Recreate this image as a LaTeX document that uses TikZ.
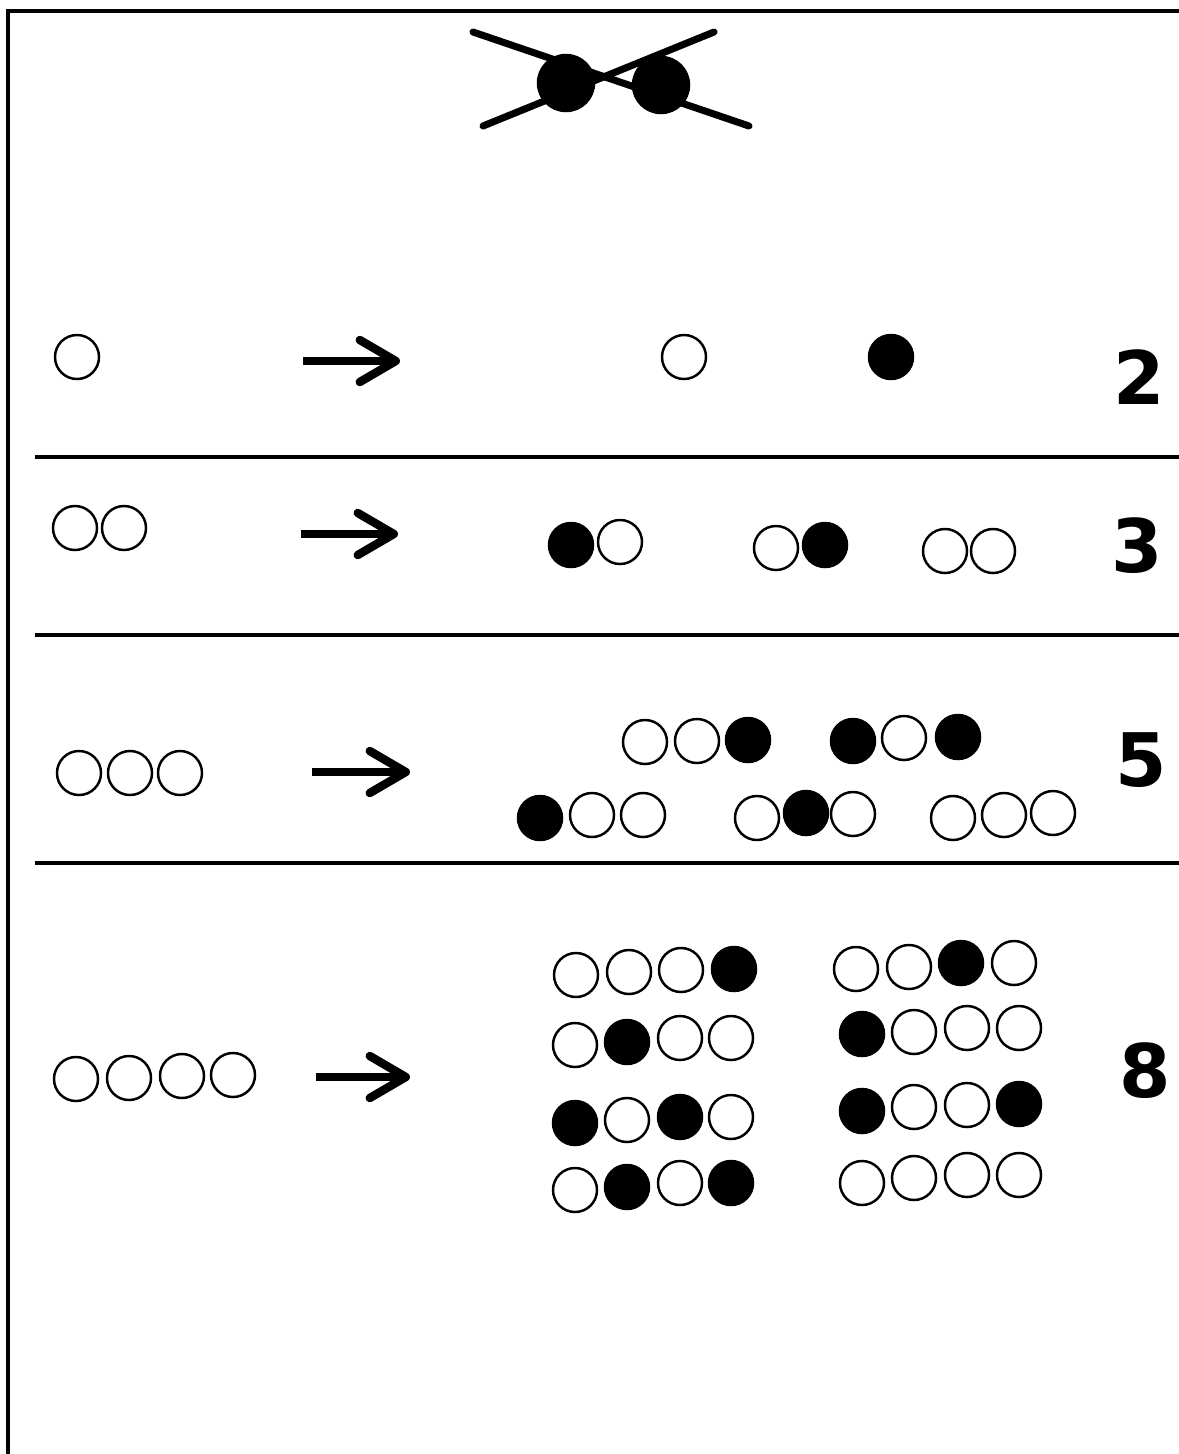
\documentclass[tikz,border=0pt]{standalone}
\usepackage{fontspec}
\setmainfont{DejaVu Sans}
\usetikzlibrary{arrows.meta}
\tikzset{
  bead/.style={circle, draw, line width=0.7pt, minimum size=4.4mm, inner sep=0pt},
  o/.style={bead, fill=white},
  f/.style={bead, fill=black},
  maparrow/.style={-{Straight Barb[length=3.6mm, width=4.2mm, round]}, line width=2.4pt},
  sepline/.style={line width=0.9pt},
  frameline/.style={line width=1.3pt},
  countlabel/.style={font=\fontsize{21}{25}\selectfont\bfseries, inner sep=0pt},
  crossline/.style={line width=2pt, line cap=round},
}

\begin{document}
\begin{tikzpicture}[x=0.01cm, y=-0.01cm]
  \useasboundingbox (0,0) rectangle (1179,1454);
  % frame (open on the right and bottom)
  \draw[frameline] (8,1470) -- (8,11) -- (1190,11);

  % crossed-out pair at the top
  \node[f, minimum size=5.6mm] (xl) at (566,83) {};
  \node[f, minimum size=5.6mm] (xr) at (661,85) {};
  \coordinate (xa1) at (473,32); \coordinate (xa2) at (749,126);
  \coordinate (xb1) at (483,126); \coordinate (xb2) at (714,32);
  \draw[crossline] (xa1) -- (xa2);
  \draw[crossline] (xb1) -- (xb2);

  % separators
  \foreach \y [count=\i] in {457,635,863} {
    \coordinate (sepl\i) at (35,\y);
    \coordinate (sepr\i) at (1185,\y);
    \draw[sepline] (sepl\i) -- (sepr\i);
  }

  % row 1
  \node[o] (in1) at (77,357) {};
  \coordinate (a1s) at (303,361); \coordinate (a1e) at (400,361);
  \draw[maparrow] (a1s) -- (a1e);
  \node[o] (r1b1) at (684,357) {};
  \node[f] (r1b2) at (891,357) {};
  \node[countlabel] (n1) at (1139,377) {2};

  % row 2
  \foreach \x/\y [count=\i] in {75/528,124/528}
    \node[o] (in2b\i) at (\x,\y) {};
  \coordinate (a2s) at (301,534); \coordinate (a2e) at (398,534);
  \draw[maparrow] (a2s) -- (a2e);
  \foreach \x/\y/\s [count=\i] in {571/545/f,620/542/o,776/548/o,825/545/f,945/551/o,993/551/o}
    \node[\s] (r2b\i) at (\x,\y) {};
  \node[countlabel] (n2) at (1137,546) {3};

  % row 3
  \foreach \x/\y [count=\i] in {79/773,130/773,180/773}
    \node[o] (in3b\i) at (\x,\y) {};
  \coordinate (a3s) at (312,772); \coordinate (a3e) at (410,772);
  \draw[maparrow] (a3s) -- (a3e);
  \foreach \x/\y/\s [count=\i] in {645/742/o,697/741/o,748/740/f,853/741/f,904/738/o,958/737/f,
      540/818/f,592/815/o,643/815/o,757/818/o,806/813/f,853/814/o,953/818/o,1004/815/o,1053/813/o}
    \node[\s] (r3b\i) at (\x,\y) {};
  \node[countlabel] (n3) at (1141,760) {5};

  % row 4
  \foreach \x/\y [count=\i] in {76/1079,129/1078,182/1076,233/1075}
    \node[o] (in4b\i) at (\x,\y) {};
  \coordinate (a4s) at (316,1077); \coordinate (a4e) at (410,1077);
  \draw[maparrow] (a4s) -- (a4e);
  \foreach \x/\y/\s [count=\i] in {576/975/o,629/972/o,681/970/o,734/969/f,
      575/1045/o,627/1042/f,680/1038/o,731/1038/o,
      575/1123/f,627/1120/o,680/1117/f,731/1117/o,
      575/1190/o,627/1187/f,680/1183/o,731/1183/f}
    \node[\s] (r4l\i) at (\x,\y) {};
  \foreach \x/\y/\s [count=\i] in {856/969/o,909/967/o,961/963/f,1014/963/o,
      862/1034/f,914/1032/o,967/1028/o,1019/1028/o,
      862/1111/f,914/1107/o,967/1105/o,1019/1104/f,
      862/1183/o,914/1178/o,967/1175/o,1019/1175/o}
    \node[\s] (r4r\i) at (\x,\y) {};
  \node[countlabel] (n4) at (1145,1071) {8};
\end{tikzpicture}
\end{document}
